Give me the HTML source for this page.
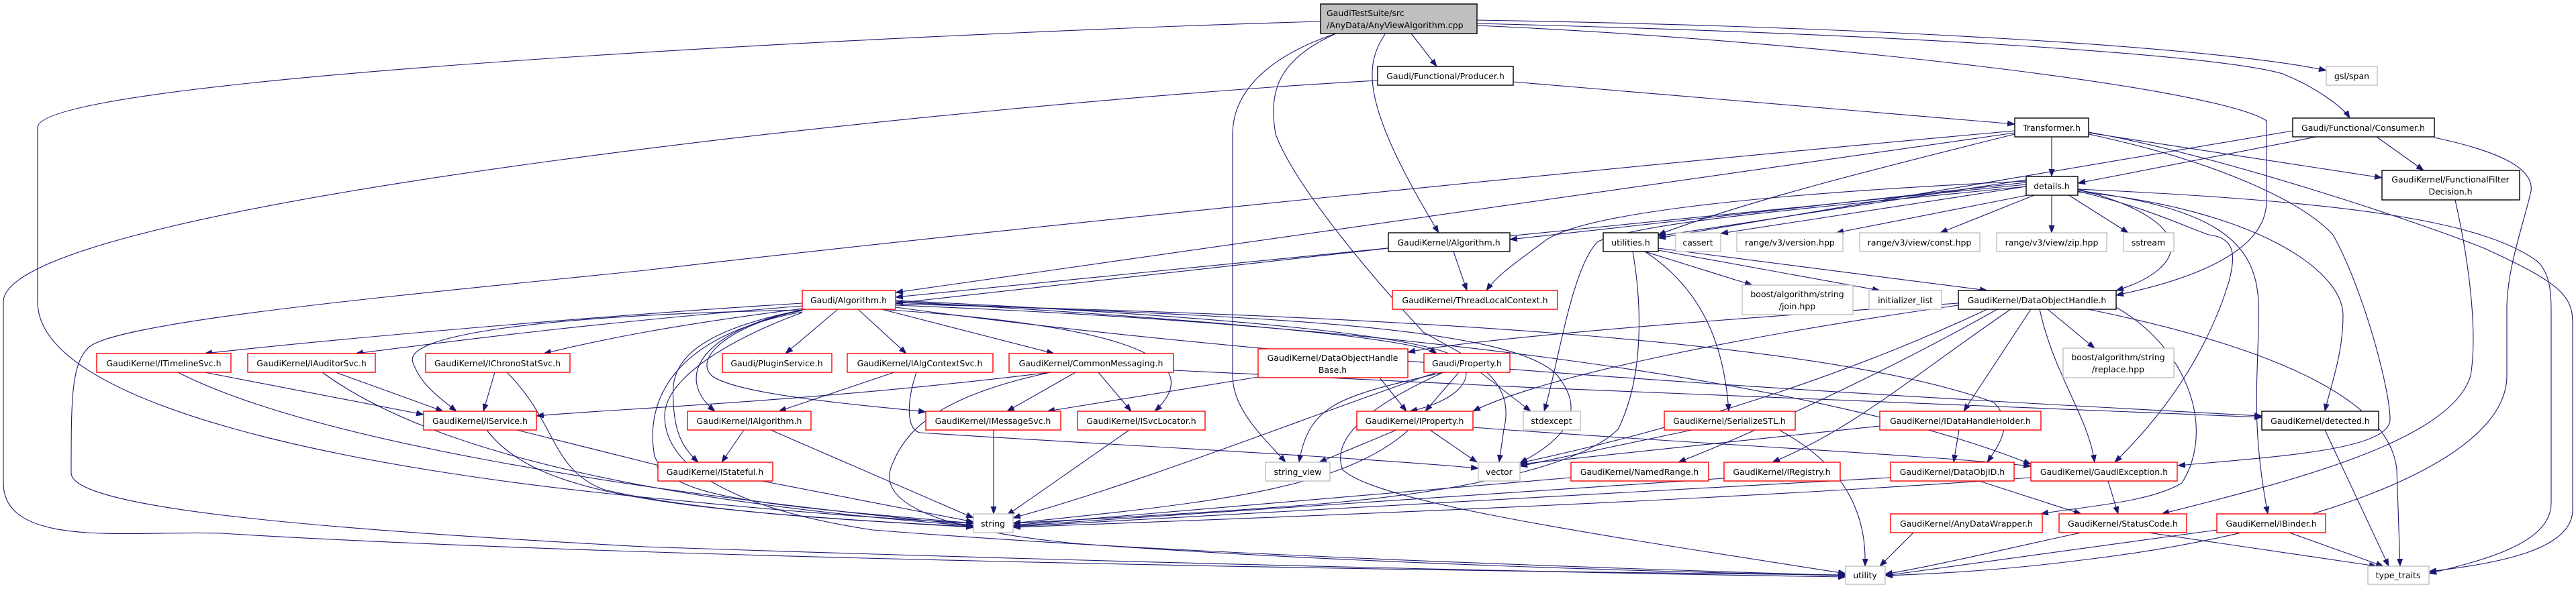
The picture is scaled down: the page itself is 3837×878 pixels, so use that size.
<!DOCTYPE html>
<html><head><meta charset="utf-8"><style>
html,body{margin:0;padding:0;background:#fff}
svg{display:block}
text{font-family:"DejaVu Sans","Liberation Sans",sans-serif;font-size:12.5px;fill:#000}
.r{fill:#fff;stroke:#ff0000;stroke-width:1.4}
.b{fill:#fff;stroke:#000;stroke-width:1.4}
.g{fill:#fff;stroke:#bfbfbf;stroke-width:1.4}
.e{fill:none;stroke:#191970;stroke-width:1.1}
</style></head><body>
<svg width="3837" height="878" viewBox="0 0 3837 878" xmlns="http://www.w3.org/2000/svg">
<defs><marker id="a" markerUnits="userSpaceOnUse" markerWidth="12" markerHeight="10" refX="11" refY="4.5" orient="auto"><path d="M0,0 L12,4.5 L0,9 z" fill="#191970"/></marker></defs>
<g class="e" marker-end="url(#a)">
<path d="M2102,50 L2140,99"/>
<path d="M2063,51 C2030,100 2030,160 2143,347"/>
<path d="M1967,32 C1500,45 56,110 56,190 L56,450 C56,600 500,700 1000,745 C1200,765 1350,775 1450,780"/>
<path d="M1990,50 C1900,80 1836,130 1836,200 L1836,560 C1836,610 1880,650 1915,689"/>
<path d="M1990,50 C1900,90 1890,140 1900,200 C1930,280 2050,420 2120,495 C2180,530 2260,560 2240,640 L2233,689"/>
<path d="M2200,30 C2800,40 3300,70 3465,105"/>
<path d="M2200,35 C2800,50 3300,80 3400,110 C3450,130 3490,160 3500,176"/>
<path d="M2200,38 C2700,60 3300,130 3376,180 L3376,300 C3376,380 3250,420 3152,440"/>
<path d="M2254,122 L3001,185"/>
<path d="M2052,120 C1500,150 5,300 5,450 L5,720 C5,820 200,790 330,795 C900,830 2000,850 2749,857"/>
<path d="M3056,204 L3056,263"/>
<path d="M3111,198 L3548,265"/>
<path d="M3001,200 C2800,250 2600,300 2470,350"/>
<path d="M3001,198 L1334,436"/>
<path d="M3001,195 C2500,240 1500,340 960,403 C600,440 160,480 130,520 C106,545 106,600 106,705 C106,760 500,790 960,815 C1700,840 2400,855 2749,860"/>
<path d="M3111,200 C3300,240 3430,300 3475,350 C3520,430 3560,580 3560,625 C3560,670 3400,680 3244,694"/>
<path d="M3111,197 C3300,230 3600,330 3700,370 C3810,420 3832,440 3832,480 L3832,760 C3832,820 3720,840 3618,852"/>
<path d="M3450,204 L3095,273"/>
<path d="M3540,204 L3610,254"/>
<path d="M3626,205 C3720,225 3775,250 3770,285 C3760,330 3734,400 3734,460 L3734,560 C3734,700 3400,800 3100,835 C3000,848 2900,855 2808,858"/>
<path d="M3415,195 L2470,355"/>
<path d="M3018,275 L1334,443"/>
<path d="M3018,272 L2249,357"/>
<path d="M3018,270 C2600,290 2350,320 2300,360 C2260,390 2230,410 2214,433"/>
<path d="M3018,268 L2470,352"/>
<path d="M3018,278 L2563,348"/>
<path d="M3025,290 L2735,347"/>
<path d="M3030,291 L2890,347"/>
<path d="M3056,290 L3056,347"/>
<path d="M3080,290 L3170,347"/>
<path d="M3095,282 C3280,330 3260,400 3152,433"/>
<path d="M3018,278 C2700,310 2450,330 2380,360 C2340,400 2320,550 2300,613"/>
<path d="M3095,285 C3200,310 3260,340 3290,350 C3330,355 3330,380 3320,420 C3280,550 3200,640 3150,689"/>
<path d="M3095,286 C3350,310 3490,400 3490,470 C3490,530 3470,580 3463,613"/>
<path d="M3095,284 C3300,310 3360,360 3364,450 C3366,550 3350,620 3378,766"/>
<path d="M3095,282 C3500,300 3700,330 3780,390 C3800,410 3800,440 3800,470 L3800,750 C3800,810 3700,835 3618,855"/>
<path d="M3657,298 C3680,400 3690,500 3680,560 C3650,660 3400,720 3220,766"/>
<path d="M2068,370 L1334,452"/>
<path d="M2165,375 L2185,433"/>
<path d="M2450,375 L2610,425"/>
<path d="M2470,373 L2800,433"/>
<path d="M2470,370 C2700,400 2850,420 2960,433"/>
<path d="M2450,375 C2550,440 2570,540 2575,613"/>
<path d="M2432,375 C2445,450 2450,560 2410,640 C2360,690 2200,730 1980,750 C1800,765 1600,775 1509,780"/>
<path d="M1195,452 C900,470 500,505 305,527"/>
<path d="M1195,456 C900,480 700,505 530,527"/>
<path d="M1195,460 C1000,485 900,505 810,527"/>
<path d="M1195,462 C800,470 600,500 615,540 C625,570 650,590 680,613"/>
<path d="M1248,461 L1170,527"/>
<path d="M1278,461 L1350,527"/>
<path d="M1313,461 L1570,527"/>
<path d="M1200,461 C1050,490 1000,560 1065,613"/>
<path d="M1195,462 C1000,500 1000,560 1003,600 C1005,650 1020,670 1040,689"/>
<path d="M1195,463 C1100,480 1030,530 1060,560 C1100,590 1300,605 1379,614"/>
<path d="M1310,461 C1600,480 1820,520 1720,613"/>
<path d="M1195,465 C1000,500 960,600 975,680 C1000,740 1100,750 1450,780"/>
<path d="M1334,448 C1800,470 2150,500 2180,540 C2200,580 2140,605 2100,613"/>
<path d="M1334,449 C1700,470 2100,500 2140,527"/>
<path d="M1334,451 C1800,470 2250,480 2320,560 C2360,610 2340,650 2264,690"/>
<path d="M1334,455 C2000,480 2700,560 3025,692"/>
<path d="M1334,453 C2000,470 2700,500 2970,600 C3000,630 2980,660 2960,689"/>
<path d="M1195,466 C1100,500 990,560 990,620 C990,700 1100,760 1300,790 C1800,830 2500,850 2749,858"/>
<path d="M1334,458 C2000,550 3000,600 3369,620"/>
<path d="M305,555 L631,618"/>
<path d="M265,555 C450,650 900,730 1450,783"/>
<path d="M500,555 L660,613"/>
<path d="M480,555 C650,680 1000,750 1450,784"/>
<path d="M737,555 L720,613"/>
<path d="M755,555 C830,630 820,700 900,730 C1050,765 1300,778 1450,785"/>
<path d="M770,641 L990,696"/>
<path d="M725,641 C800,740 1000,760 1450,786"/>
<path d="M1332,555 L1160,613"/>
<path d="M1365,555 C1350,600 1350,640 1370,645 C1600,660 2000,680 2202,698"/>
<path d="M1565,555 C1200,600 900,610 799,620"/>
<path d="M1602,555 L1500,613"/>
<path d="M1636,555 L1685,613"/>
<path d="M1565,555 C1400,590 1350,640 1330,690 C1300,750 1400,790 1600,810 C2000,840 2500,853 2749,858"/>
<path d="M1748,552 C2300,580 3000,610 3369,622"/>
<path d="M1108,641 L1075,689"/>
<path d="M1148,641 L1450,772"/>
<path d="M1135,717 L1450,778"/>
<path d="M1480,641 L1480,766"/>
<path d="M1682,641 L1500,768"/>
<path d="M2055,563 L2095,613"/>
<path d="M1874,562 L1560,613"/>
<path d="M2173,555 L2123,613"/>
<path d="M2205,555 L2280,613"/>
<path d="M2150,555 C2000,590 1950,600 1935,689"/>
<path d="M2140,555 C1950,620 1700,720 1509,772"/>
<path d="M2150,555 C2050,600 1980,650 2000,700 C2050,750 2400,800 2749,855"/>
<path d="M2080,641 L1965,689"/>
<path d="M2130,641 L2200,689"/>
<path d="M2098,641 C2000,730 1800,750 1509,780"/>
<path d="M2194,637 C2500,660 2900,680 3025,695"/>
<path d="M2520,641 L2264,695"/>
<path d="M2650,641 C2760,700 2780,780 2778,844"/>
<path d="M2917,452 C2500,480 2200,505 2097,525"/>
<path d="M2917,455 C2600,500 2300,560 2194,613"/>
<path d="M3025,461 L2925,613"/>
<path d="M3038,461 C3060,560 3110,620 3120,689"/>
<path d="M3050,461 L3120,519"/>
<path d="M3110,461 C3400,520 3560,600 3570,700 L3575,844"/>
<path d="M3152,458 C3260,520 3300,640 3250,720 C3200,750 3100,755 3040,766"/>
<path d="M2975,461 C2800,560 2600,650 2500,689"/>
<path d="M2995,461 C2850,560 2760,640 2640,689"/>
<path d="M2960,461 C2750,560 2500,640 2264,690"/>
<path d="M2918,641 L2910,689"/>
<path d="M2800,635 L2264,692"/>
<path d="M2816,712 C2300,740 1800,770 1509,785"/>
<path d="M2948,717 L3100,766"/>
<path d="M3140,717 L3155,766"/>
<path d="M3025,712 C2500,750 1800,775 1509,786"/>
<path d="M2340,712 L1509,783"/>
<path d="M2568,713 L1509,784"/>
<path d="M2850,794 L2800,844"/>
<path d="M3100,794 C3000,815 2900,840 2808,856"/>
<path d="M3200,794 L3540,844"/>
<path d="M3302,790 L2808,858"/>
<path d="M3410,794 L3550,844"/>
<path d="M3463,641 L3558,844"/>
</g>
<g>
<rect x="1967" y="6" width="233" height="44" fill="#bfbfbf" stroke="#000" stroke-width="1.4"/>
<text x="1976" y="24">GaudiTestSuite/src</text><text x="1976" y="42">/AnyData/AnyViewAlgorithm.cpp</text>

<rect class="b" x="2052" y="99" width="202" height="28"/><text x="2153" y="118" text-anchor="middle">Gaudi/Functional/Producer.h</text>
<rect class="g" x="3465" y="99" width="76" height="28"/><text x="3503" y="118" text-anchor="middle">gsl/span</text>
<rect class="b" x="3001" y="176" width="110" height="28"/><text x="3056" y="195" text-anchor="middle">Transformer.h</text>
<rect class="b" x="3415" y="176" width="211" height="28"/><text x="3520" y="195" text-anchor="middle">Gaudi/Functional/Consumer.h</text>
<rect class="b" x="3018" y="263" width="77" height="28"/><text x="3056" y="282" text-anchor="middle">details.h</text>
<rect class="b" x="3548" y="254" width="205" height="44"/><text x="3650" y="272" text-anchor="middle">GaudiKernel/FunctionalFilter</text><text x="3650" y="290" text-anchor="middle">Decision.h</text>

<rect class="b" x="2068" y="347" width="181" height="28"/><text x="2158" y="366" text-anchor="middle">GaudiKernel/Algorithm.h</text>
<rect class="b" x="2388" y="347" width="82" height="28"/><text x="2429" y="366" text-anchor="middle">utilities.h</text>
<rect class="g" x="2496" y="347" width="67" height="28"/><text x="2529" y="366" text-anchor="middle">cassert</text>
<rect class="g" x="2587" y="347" width="158" height="28"/><text x="2666" y="366" text-anchor="middle">range/v3/version.hpp</text>
<rect class="g" x="2770" y="347" width="179" height="28"/><text x="2859" y="366" text-anchor="middle">range/v3/view/const.hpp</text>
<rect class="g" x="2974" y="347" width="164" height="28"/><text x="3056" y="366" text-anchor="middle">range/v3/view/zip.hpp</text>
<rect class="g" x="3163" y="347" width="75" height="28"/><text x="3200" y="366" text-anchor="middle">sstream</text>

<rect class="r" x="1195" y="433" width="139" height="28"/><text x="1264" y="452" text-anchor="middle">Gaudi/Algorithm.h</text>
<rect class="r" x="2074" y="433" width="246" height="28"/><text x="2197" y="452" text-anchor="middle">GaudiKernel/ThreadLocalContext.h</text>
<rect class="g" x="2595" y="425" width="165" height="44"/><text x="2677" y="443" text-anchor="middle">boost/algorithm/string</text><text x="2677" y="461" text-anchor="middle">/join.hpp</text>
<rect class="g" x="2784" y="433" width="108" height="28"/><text x="2838" y="452" text-anchor="middle">initializer_list</text>
<rect class="b" x="2917" y="433" width="235" height="28"/><text x="3034" y="452" text-anchor="middle">GaudiKernel/DataObjectHandle.h</text>

<rect class="r" x="144" y="527" width="200" height="28"/><text x="244" y="546" text-anchor="middle">GaudiKernel/ITimelineSvc.h</text>
<rect class="r" x="369" y="527" width="190" height="28"/><text x="464" y="546" text-anchor="middle">GaudiKernel/IAuditorSvc.h</text>
<rect class="r" x="634" y="527" width="215" height="28"/><text x="741" y="546" text-anchor="middle">GaudiKernel/IChronoStatSvc.h</text>
<rect class="r" x="1076" y="527" width="163" height="28"/><text x="1157" y="546" text-anchor="middle">Gaudi/PluginService.h</text>
<rect class="r" x="1262" y="527" width="217" height="28"/><text x="1370" y="546" text-anchor="middle">GaudiKernel/IAlgContextSvc.h</text>
<rect class="r" x="1503" y="527" width="245" height="28"/><text x="1625" y="546" text-anchor="middle">GaudiKernel/CommonMessaging.h</text>
<rect class="r" x="1874" y="520" width="223" height="43"/><text x="1985" y="538" text-anchor="middle">GaudiKernel/DataObjectHandle</text><text x="1985" y="556" text-anchor="middle">Base.h</text>
<rect class="r" x="2121" y="527" width="128" height="28"/><text x="2185" y="546" text-anchor="middle">Gaudi/Property.h</text>
<rect class="g" x="3073" y="519" width="165" height="44"/><text x="3155" y="537" text-anchor="middle">boost/algorithm/string</text><text x="3155" y="555" text-anchor="middle">/replace.hpp</text>

<rect class="r" x="631" y="613" width="168" height="28"/><text x="715" y="632" text-anchor="middle">GaudiKernel/IService.h</text>
<rect class="r" x="1024" y="613" width="184" height="28"/><text x="1116" y="632" text-anchor="middle">GaudiKernel/IAlgorithm.h</text>
<rect class="r" x="1379" y="613" width="201" height="28"/><text x="1479" y="632" text-anchor="middle">GaudiKernel/IMessageSvc.h</text>
<rect class="r" x="1605" y="613" width="190" height="28"/><text x="1700" y="632" text-anchor="middle">GaudiKernel/ISvcLocator.h</text>
<rect class="r" x="2021" y="613" width="173" height="28"/><text x="2107" y="632" text-anchor="middle">GaudiKernel/IProperty.h</text>
<rect class="g" x="2269" y="613" width="85" height="28"/><text x="2311" y="632" text-anchor="middle">stdexcept</text>
<rect class="r" x="2479" y="613" width="195" height="28"/><text x="2576" y="632" text-anchor="middle">GaudiKernel/SerializeSTL.h</text>
<rect class="r" x="2800" y="613" width="240" height="28"/><text x="2920" y="632" text-anchor="middle">GaudiKernel/IDataHandleHolder.h</text>
<rect class="b" x="3369" y="613" width="174" height="28"/><text x="3456" y="632" text-anchor="middle">GaudiKernel/detected.h</text>

<rect class="r" x="980" y="689" width="171" height="28"/><text x="1065" y="708" text-anchor="middle">GaudiKernel/IStateful.h</text>
<rect class="g" x="1885" y="689" width="96" height="28"/><text x="1933" y="708" text-anchor="middle">string_view</text>
<rect class="g" x="2202" y="689" width="62" height="28"/><text x="2233" y="708" text-anchor="middle">vector</text>
<rect class="r" x="2340" y="689" width="205" height="28"/><text x="2442" y="708" text-anchor="middle">GaudiKernel/NamedRange.h</text>
<rect class="r" x="2568" y="689" width="173" height="28"/><text x="2654" y="708" text-anchor="middle">GaudiKernel/IRegistry.h</text>
<rect class="r" x="2816" y="689" width="184" height="28"/><text x="2908" y="708" text-anchor="middle">GaudiKernel/DataObjID.h</text>
<rect class="r" x="3025" y="689" width="218" height="28"/><text x="3134" y="708" text-anchor="middle">GaudiKernel/GaudiException.h</text>

<rect class="g" x="1450" y="766" width="59" height="28"/><text x="1479" y="785" text-anchor="middle">string</text>
<rect class="r" x="2816" y="766" width="226" height="28"/><text x="2929" y="785" text-anchor="middle">GaudiKernel/AnyDataWrapper.h</text>
<rect class="r" x="3067" y="766" width="190" height="28"/><text x="3162" y="785" text-anchor="middle">GaudiKernel/StatusCode.h</text>
<rect class="r" x="3302" y="766" width="162" height="28"/><text x="3383" y="785" text-anchor="middle">GaudiKernel/IBinder.h</text>

<rect class="g" x="2749" y="844" width="59" height="27"/><text x="2778" y="862" text-anchor="middle">utility</text>
<rect class="g" x="3527" y="844" width="91" height="27"/><text x="3572" y="862" text-anchor="middle">type_traits</text>
</g>
</svg>
</body></html>
